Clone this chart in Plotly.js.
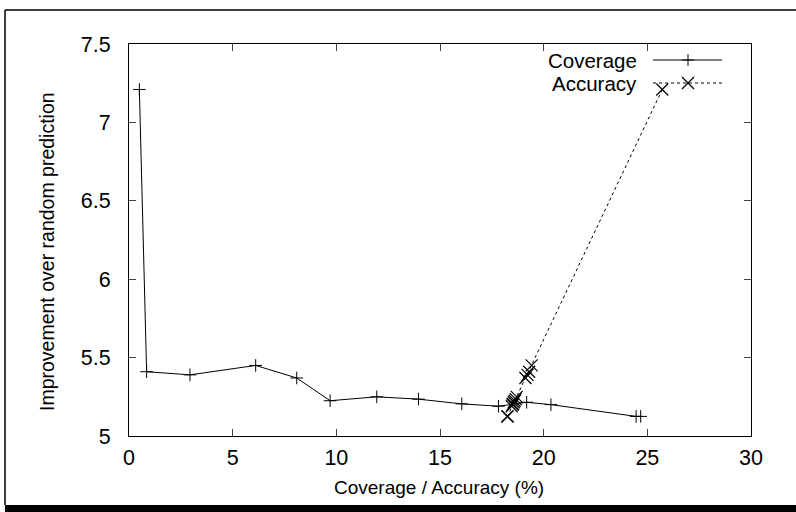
<!DOCTYPE html>
<html>
<head>
<meta charset="utf-8">
<script src="https://cdn.plot.ly/plotly-3.0.1.min.js"></script>
<style>
  html, body { margin: 0; padding: 0; background: #fff; }
  #chart { width: 796px; height: 512px; }
</style>
</head>
<body>
<div id="chart"></div>
<script>
// Data
const coverage    = [0.5, 0.85, 2.94, 6.11, 8.09, 9.70, 11.95, 13.96, 16.05, 17.82, 19.18, 20.35, 24.46, 24.68];
const accuracy    = [25.72, 19.30, 19.22, 19.42, 19.12, 18.60, 18.70, 18.65, 18.52, 18.46, 18.56, 18.50, 18.27, 18.24];
const improvement = [7.21, 5.41, 5.39, 5.45, 5.37, 5.225, 5.25, 5.235, 5.205, 5.19, 5.215, 5.20, 5.125, 5.125];
const xTicks = [0, 5, 10, 15, 20, 25, 30];
const yTicks = [5, 5.5, 6, 6.5, 7, 7.5];
const seriesNames = ['Coverage', 'Accuracy'];
const xTitle = 'Coverage / Accuracy (%)';
const yTitle = 'Improvement over random prediction';

const FONT = 'Liberation Sans, Arial, Helvetica, sans-serif';

const traces = [
  {
    x: coverage, y: improvement, name: seriesNames[0],
    type: 'scatter', mode: 'lines+markers',
    line: { color: '#000', width: 1 },
    marker: { symbol: 'cross-thin-open', size: 9, color: '#000', line: { color: '#000', width: 1 } },
    showlegend: false, cliponaxis: false
  },
  {
    x: accuracy, y: improvement, name: seriesNames[1],
    type: 'scatter', mode: 'lines+markers',
    line: { color: '#000', width: 1, dash: '3px,3px' },
    marker: { symbol: 'x-thin-open', size: 12, color: '#000', line: { color: '#000', width: 1.2 } },
    showlegend: false, cliponaxis: false
  }
];

// pixel helpers for decorations (plot area: x 129..751, y 44..436)
const PL = 129, PR = 751, PT = 44, PB = 436;
const px = v => (v - PL) / (PR - PL);
const py = v => (PB - v) / (PB - PT);

const legY1 = 60, legY2 = 83, legX0 = 653, legX1 = 722, legM = 688, mh = 6;

const shapes = [
  // outer frame (open to the right, as cropped in the reference)
  { type: 'line', xref: 'paper', yref: 'paper', x0: px(5), x1: px(5), y0: py(505), y1: py(10),
    line: { color: '#000', width: 1.5 } },
  { type: 'line', xref: 'paper', yref: 'paper', x0: px(5), x1: px(900), y0: py(10), y1: py(10),
    line: { color: '#000', width: 1.5 } },
  // drop shadow bar at bottom
  { type: 'rect', xref: 'paper', yref: 'paper', x0: px(5), x1: px(900), y0: py(512), y1: py(505),
    line: { width: 0 }, fillcolor: '#000' },
  // legend samples
  { type: 'line', xref: 'paper', yref: 'paper', x0: px(legX0), x1: px(legX1), y0: py(legY1), y1: py(legY1),
    line: { color: '#000', width: 1 } },
  { type: 'line', xref: 'paper', yref: 'paper', x0: px(legM - mh), x1: px(legM + mh), y0: py(legY1), y1: py(legY1),
    line: { color: '#000', width: 1 } },
  { type: 'line', xref: 'paper', yref: 'paper', x0: px(legM), x1: px(legM), y0: py(legY1 - mh), y1: py(legY1 + mh),
    line: { color: '#000', width: 1 } },
  { type: 'line', xref: 'paper', yref: 'paper', x0: px(legX0), x1: px(legX1), y0: py(legY2), y1: py(legY2),
    line: { color: '#000', width: 1, dash: '3px,3px' } },
  { type: 'line', xref: 'paper', yref: 'paper', x0: px(legM - mh), x1: px(legM + mh), y0: py(legY2 - mh), y1: py(legY2 + mh),
    line: { color: '#000', width: 1.2 } },
  { type: 'line', xref: 'paper', yref: 'paper', x0: px(legM - mh), x1: px(legM + mh), y0: py(legY2 + mh), y1: py(legY2 - mh),
    line: { color: '#000', width: 1.2 } }
];

const annotations = [
  { text: seriesNames[0], xref: 'paper', yref: 'paper', x: px(638), y: py(legY1),
    xanchor: 'right', yanchor: 'middle', showarrow: false, borderpad: 0,
    font: { family: FONT, size: 20.5, color: '#000' } },
  { text: seriesNames[1], xref: 'paper', yref: 'paper', x: px(638), y: py(legY2),
    xanchor: 'right', yanchor: 'middle', showarrow: false, borderpad: 0,
    font: { family: FONT, size: 20.5, color: '#000' } },
  { text: xTitle, xref: 'paper', yref: 'paper', x: px(439), y: py(487),
    xanchor: 'center', yanchor: 'middle', showarrow: false, font: { family: FONT, size: 19, color: '#000' } },
  { text: yTitle, xref: 'paper', yref: 'paper', x: px(47), y: py(252), textangle: -90,
    xanchor: 'center', yanchor: 'middle', showarrow: false, font: { family: FONT, size: 19.5, color: '#000' } }
];

const layout = {
  width: 796, height: 512,
  margin: { l: PL, r: 796 - PR, t: PT, b: 512 - PB, pad: 0 },
  paper_bgcolor: '#fff', plot_bgcolor: '#fff',
  showlegend: false,
  font: { family: FONT, size: 21, color: '#000' },
  xaxis: {
    range: [0, 30], tickvals: xTicks, ticktext: xTicks.map(String),
    ticks: 'inside', ticklen: 7, tickwidth: 1, tickcolor: '#444',
    showline: true, linecolor: '#000', linewidth: 1, mirror: 'ticks',
    showgrid: false, zeroline: false, ticklabelstandoff: 2,
    tickfont: { family: FONT, size: 21.5, color: '#000' }
  },
  yaxis: {
    range: [5, 7.5], tickvals: yTicks, ticktext: yTicks.map(String),
    ticks: 'inside', ticklen: 7, tickwidth: 1, tickcolor: '#444',
    showline: true, linecolor: '#000', linewidth: 1, mirror: 'ticks',
    showgrid: false, zeroline: false, ticklabelstandoff: 13,
    tickfont: { family: FONT, size: 21.5, color: '#000' }
  },
  shapes: shapes,
  annotations: annotations
};

Plotly.newPlot('chart', traces, layout, { staticPlot: true, displayModeBar: false });
</script>
</body>
</html>
